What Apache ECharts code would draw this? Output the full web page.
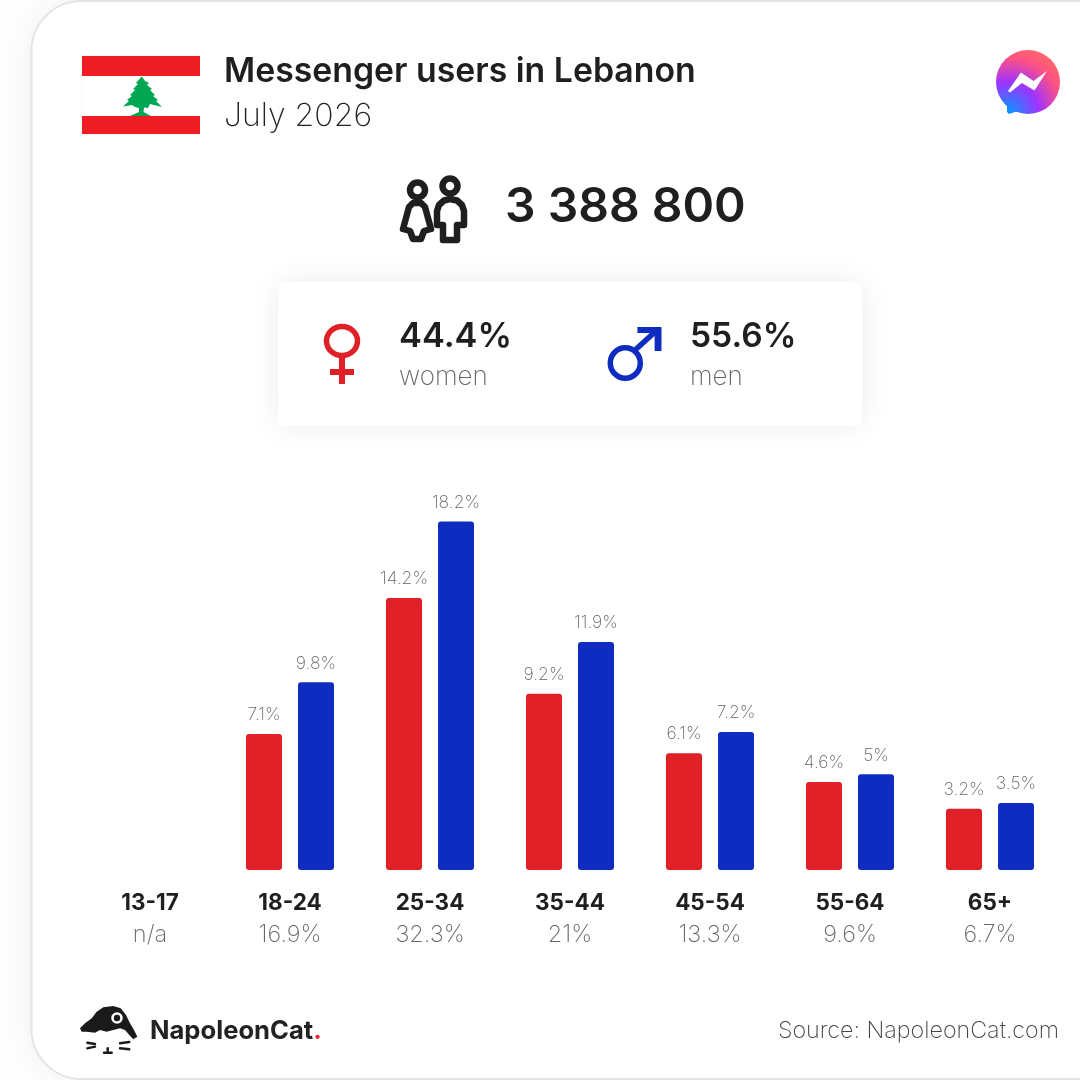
<!DOCTYPE html>
<html>
<head>
<meta charset="utf-8">
<style>html,body{margin:0;padding:0;background:#fdfdfd}#c{width:1080px;height:1080px}</style>
<script src="https://cdn.jsdelivr.net/npm/echarts@6/dist/echarts.min.js"></script>
</head>
<body>
<div id="c"></div>
<script>
const ageGroups = ['13-17','18-24','25-34','35-44','45-54','55-64','65+'];
const ageShares = ['n/a','16.9%','32.3%','21%','13.3%','9.6%','6.7%'];
const women = [null,7.1,14.2,9.2,6.1,4.6,3.2];
const men = [null,9.8,18.2,11.9,7.2,5,3.5];
const chartTitle = 'Messenger users in Lebanon';
const chartSubtitle = 'July 2026';
const totalUsers = '3 388 800';
const womenShare = '44.4%';
const menShare = '55.6%';

const FONT = 'Inter, "Noto Sans", sans-serif';
const INK = '#1f1f1f', RED = '#df2027', BLUE = '#0f2cc0', FLAGRED = '#ee1c25', GREEN = '#00a651', CAT = '#1a1a1a';
const msgGrad = {type:'radial',x:1008,y:113,r:74,global:true,colorStops:[
  {offset:0,color:'#0099ff'},{offset:.42,color:'#a033ff'},{offset:.75,color:'#ff5280'},{offset:1,color:'#ff7061'}]};
const txt = (x,y,text,size,weight,color,align) => ({type:'text',x,y,silent:true,style:{
  text,font:`${weight} ${size}px ${FONT}`,fill:color,textAlign:align||'left',textVerticalAlign:'middle'}});
const poly = (points,fill) => ({type:'polygon',silent:true,shape:{points},style:{fill}});
const strokeLine = (x1,y1,x2,y2,w,c) => ({type:'line',silent:true,shape:{x1,y1,x2,y2},style:{stroke:c,lineWidth:w,lineCap:'round'}});
const rect = (x,y,width,height,fill) => ({type:'rect',silent:true,shape:{x,y,width,height},style:{fill}});

const graphics = [
  // card
  {type:'rect',silent:true,z:-10,shape:{x:31.5,y:1,width:1200,height:1078,r:50},
   style:{fill:'#fff',stroke:'#e4e4e4',lineWidth:2,shadowBlur:30,shadowColor:'rgba(0,0,0,0.05)'}},
  // flag
  rect(81,55,119,79,'#f7f7f7'),
  rect(82,56,118,20,FLAGRED), rect(82,76,118,40,'#fff'), rect(82,116,118,18,FLAGRED),
  poly([[141.7,76.5],[145,81],[149,83],[147,85],[152,89],[150,90],[155,95],[153,96],[158,100],[156,101],[162,107],[154,105],[150,104],[148,108],[144,107.5],[143.5,112],[151,116],[130,116],[139,112],[139,108],[135,107],[132,105],[123,106.5],[129,101],[127,100],[132,96],[130,95],[135,90],[133,89],[138,84],[136,83]],GREEN),
  // messenger
  {type:'circle',silent:true,shape:{cx:1028,cy:82,r:32},style:{fill:msgGrad}},
  {type:'polygon',silent:true,shape:{points:[[1007,100],[1007,112],[1009,114],[1021,110]]},style:{fill:msgGrad}},
  poly([[1008,91],[1021,72.5],[1033.5,81],[1047,71],[1034.5,90.5],[1022,83],[1010,92.5]],'#fff'),
  // people icon
  {type:'circle',silent:true,shape:{cx:417.5,cy:190,r:7.5},style:{fill:'none',stroke:INK,lineWidth:6.5}},
  {type:'circle',silent:true,shape:{cx:450,cy:186,r:7.5},style:{fill:'none',stroke:INK,lineWidth:6.5}},
  {type:'polygon',silent:true,shape:{points:[[413,203],[421,203],[425,207],[431,229],[424,231],[421,239],[413,239],[410,231],[403,229],[409,207]]},
   style:{fill:'none',stroke:INK,lineWidth:6.5,lineJoin:'round'}},
  {type:'polygon',silent:true,shape:{points:[[450,199],[457,200.5],[462,205],[464,211],[464,225],[457,225],[457,240],[443,240],[443,225],[437,225],[437,211],[439,205],[444,200.5]]},
   style:{fill:'none',stroke:INK,lineWidth:6.5,lineJoin:'round'}},
  // panel
  {type:'rect',silent:true,z:-5,shape:{x:278,y:282,width:584,height:144,r:8},
   style:{fill:'#fff',shadowBlur:30,shadowColor:'rgba(0,0,0,0.08)'}},
  // female sign
  {type:'ellipse',silent:true,shape:{cx:342,cy:341,rx:15.5,ry:14.5},style:{fill:'none',stroke:RED,lineWidth:5.5}},
  rect(339,358,6,26,RED), rect(330,369,24,6,RED),
  // male sign
  {type:'ellipse',silent:true,shape:{cx:625.3,cy:363,rx:15,ry:15.2},style:{fill:'none',stroke:BLUE,lineWidth:5.5}},
  poly([[637.4,327],[661.5,327],[661.5,351],[654.6,351],[654.6,333],[637.4,333]],BLUE),
  {type:'line',silent:true,shape:{x1:634,y1:351,x2:656,y2:331},style:{stroke:BLUE,lineWidth:5.5}},
  // cat logo
  poly([[80,1028.3],[85,1023.3],[91.7,1018.3],[96.7,1011.7],[103.3,1007.3],[113.3,1006],[120.7,1008.3],[126,1015],[130,1023.3],[134,1030],[137.3,1036.7],[133.3,1039.3],[129.3,1035],[125,1030],[120,1028.3],[113.3,1030],[106.7,1031.7],[100,1030],[95,1032.7],[86.7,1031.7],[81.7,1031.7]],CAT),
  {type:'circle',silent:true,shape:{cx:117,cy:1018,r:4.5},style:{fill:CAT,stroke:'#fff',lineWidth:2.6}},
  strokeLine(87.3,1042.7,95,1044,2.4,CAT), strokeLine(87.3,1048.3,95,1046.7,2.4,CAT),
  strokeLine(120,1043.3,129.3,1042,2.4,CAT), strokeLine(120,1048.3,129.3,1049.3,2.4,CAT),
  strokeLine(104,1052.7,111.7,1052.7,2.4,CAT), strokeLine(107.7,1048.3,107.7,1052.5,2.4,CAT),
  // texts
  txt(505,208,totalUsers,48,600,INK),
  txt(399,337,womenShare,34.4,600,INK),
  txt(399,377,'women',26,200,'#666'),
  txt(690,337,menShare,33.6,600,INK),
  txt(690,377,'men',26,200,'#666'),
  {type:'text',x:150,y:1031,silent:true,style:{rich:{n:{font:`700 25.6px ${FONT}`,fill:'#222'},d:{font:`700 25.6px ${FONT}`,fill:'#e8232f'}},
    text:'{n|NapoleonCat}{d|.}',textVerticalAlign:'middle'}},
  txt(1059,1031,'Source: NapoleonCat.com',23.3,200,'#444','right'),
];

const valueLabel = {show:true,position:'top',distance:10,formatter:p=>p.value+'%',
  fontFamily:FONT,fontWeight:200,fontSize:17.5,color:'#666'};
const chart = echarts.init(document.getElementById('c'),null,{renderer:'canvas'});
chart.setOption({
  animation:false,
  backgroundColor:'transparent',
  title:{text:chartTitle,subtext:chartSubtitle,left:224,top:55,itemGap:11,padding:0,
    textStyle:{fontFamily:FONT,fontWeight:600,fontSize:33.8,color:INK},
    subtextStyle:{fontFamily:FONT,fontWeight:200,fontSize:32,color:'#222'}},
  grid:{left:80,width:980,top:487,height:383,containLabel:false},
  xAxis:{type:'category',data:ageGroups,axisLine:{show:false},axisTick:{show:false},
    axisLabel:{margin:17,interval:0,
      formatter:(v,i)=>`{a|${v}}\n{b|${ageShares[i]}}`,
      rich:{a:{fontFamily:FONT,fontWeight:700,fontSize:22.5,color:INK,lineHeight:32,align:'center'},
            b:{fontFamily:FONT,fontWeight:200,fontSize:23.5,color:'#666',lineHeight:32,align:'center'}}}},
  yAxis:{type:'value',min:0,max:20,show:false,splitLine:{show:false}},
  series:[
    {name:'women',type:'bar',data:women,barWidth:36,barGap:'44.44%',itemStyle:{color:RED,borderRadius:3},label:valueLabel},
    {name:'men',type:'bar',data:men,barWidth:36,itemStyle:{color:BLUE,borderRadius:3},label:valueLabel},
  ],
  graphic:graphics,
});
</script>
</body>
</html>
